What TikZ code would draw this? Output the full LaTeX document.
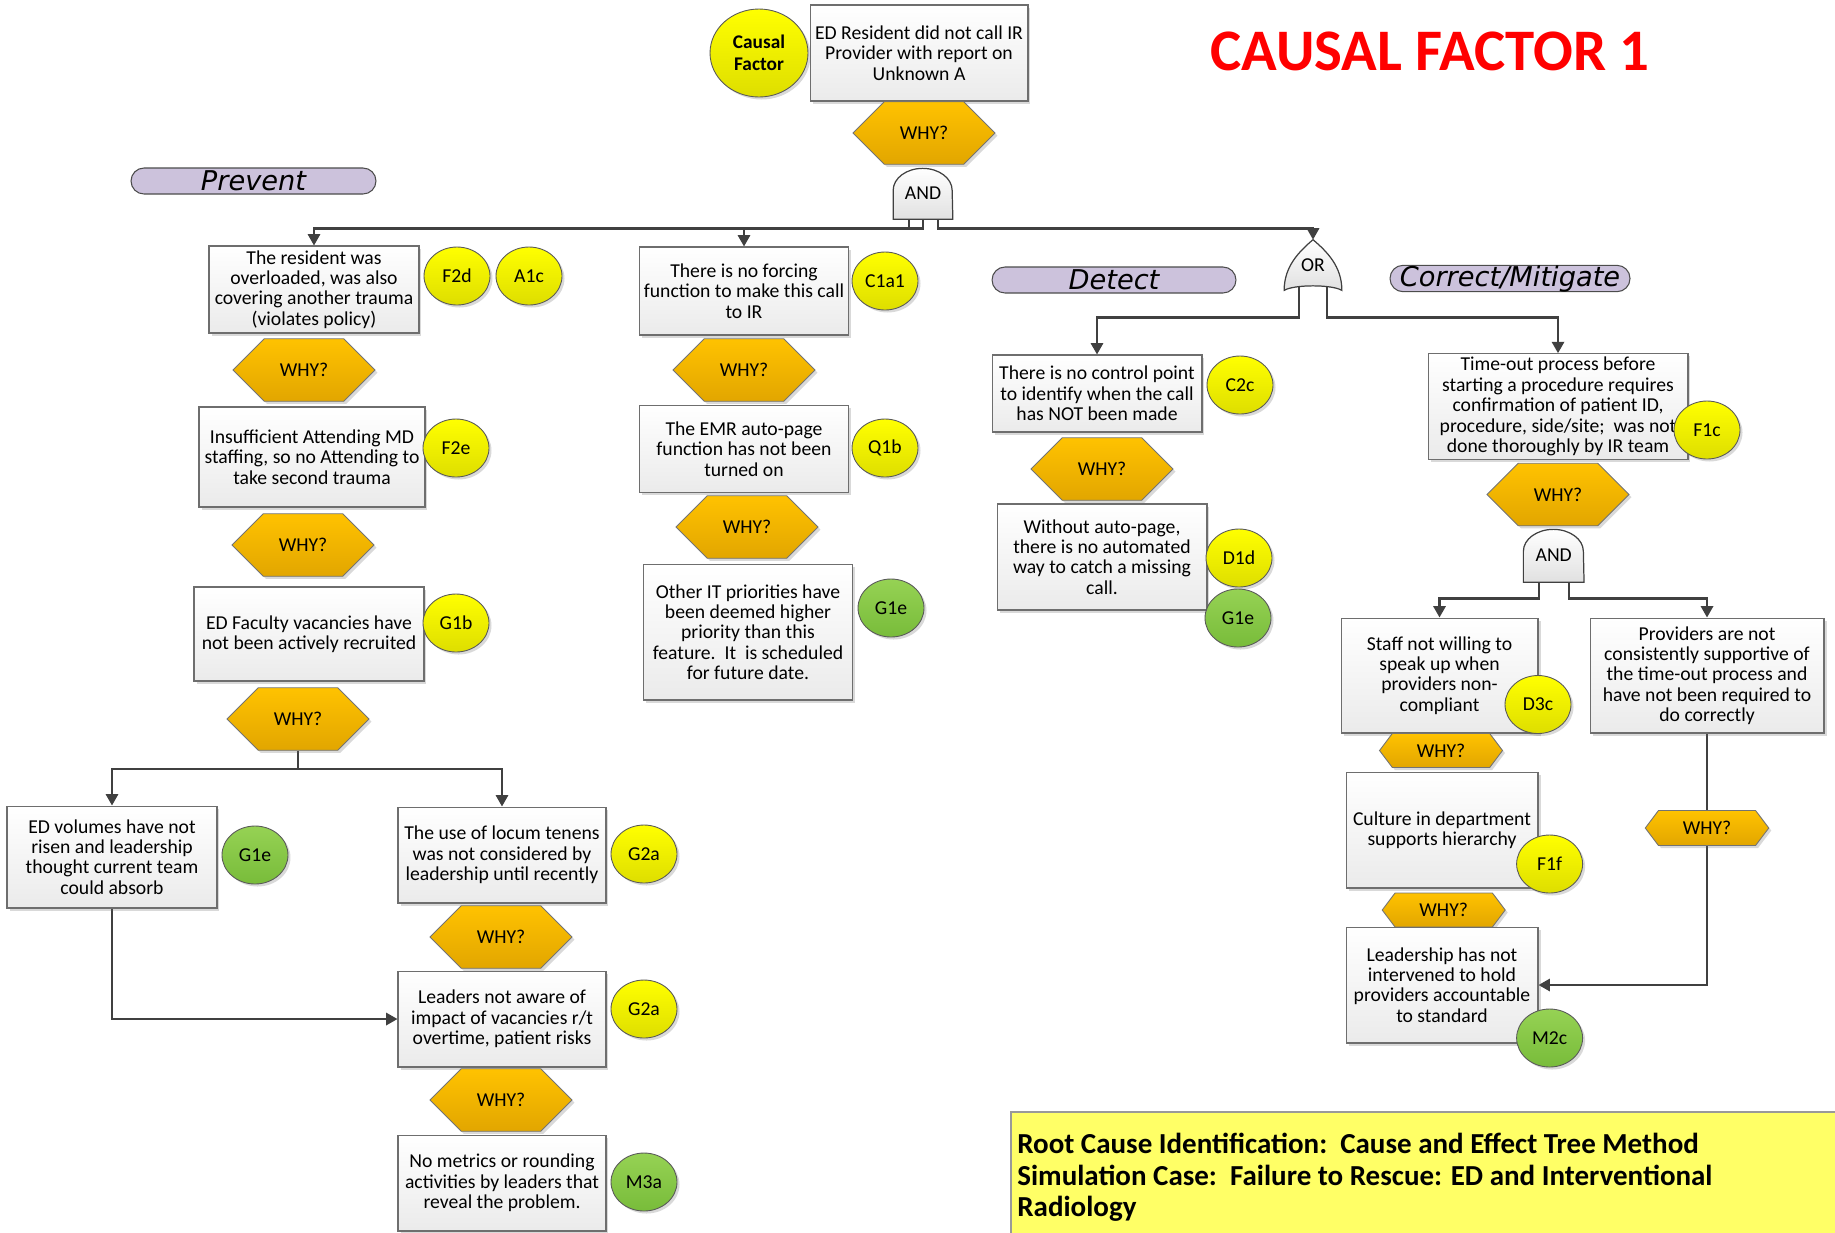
\documentclass[tikz,border=0pt]{standalone}
\usepackage{fontspec}
\setmainfont{Carlito}
\newfontfamily\phasefont{DejaVu Sans}
\usepackage{tikz}
\usetikzlibrary{shapes.geometric,shapes.symbols,shadows,calc,arrows.meta}
\definecolor{whytop}{RGB}{255,194,0}
\definecolor{whybot}{RGB}{226,166,0}
\definecolor{ylwtop}{RGB}{255,255,0}
\definecolor{ylwbot}{RGB}{222,222,0}
\definecolor{grntop}{RGB}{150,210,84}
\definecolor{grnbot}{RGB}{120,188,58}
\definecolor{pill}{RGB}{204,194,220}
\definecolor{conncol}{RGB}{64,64,64}
\definecolor{boxline}{RGB}{110,110,110}
\definecolor{notefill}{RGB}{255,255,102}
\pgfdeclarelayer{background}
\pgfdeclarelayer{gates}
\pgfsetlayers{background,gates,main}
\tikzset{softshadow/.style={drop shadow={shadow xshift=0.05cm,shadow yshift=-0.05cm,opacity=0.25,fill=black!60}},
causebox/.style={rectangle,draw=boxline,line width=0.6pt,top color=white,bottom color=black!8,align=center,inner sep=2pt,softshadow},
whyhex/.style={signal,signal to=east and west,signal pointer angle=90,draw=black!55,line width=0.5pt,top color=whytop,bottom color=whybot,minimum width=2.84cm,minimum height=1.25cm,inner sep=0pt,softshadow},
smallwhy/.style={whyhex,signal pointer angle=106,minimum width=2.46cm,minimum height=0.68cm},
ylwtag/.style={ellipse,draw=black!65,line width=0.5pt,top color=ylwtop,bottom color=ylwbot,minimum width=1.32cm,minimum height=1.16cm,inner sep=0pt,softshadow},
grntag/.style={ylwtag,top color=grntop,bottom color=grnbot},
phaselabel/.style={draw=black!70,line width=0.6pt,fill=pill,rounded corners=0.26cm,minimum height=0.52cm,inner sep=0pt,font=\phasefont\itshape\fontsize{15.5}{15.5}\selectfont},
gatebox/.style={minimum width=1.18cm,minimum height=1.02cm,inner sep=0pt},
gateshape/.style={draw=black!75,line width=0.7pt,top color=white,bottom color=black!12},
conn/.style={draw=conncol,line width=1.3pt,-{Triangle[width=7pt,length=6.5pt]}}}
\begin{document}
\begin{tikzpicture}[x=0.02cm,y=0.02cm,font=\fontsize{11.2}{11.6}\selectfont]
\useasboundingbox (0,0) rectangle (1835,-1232);
% causal factor and title
\node[ylwtag,minimum width=1.96cm,minimum height=1.76cm,align=center,font=\fontsize{11}{12.5}\selectfont\bfseries] (cf) at (759,-53) {Causal\\Factor};
\node[causebox,minimum width=4.36cm,minimum height=1.92cm] (top) at (919,-53) {ED Resident did not call IR\\Provider with report on\\Unknown A};
\node[whyhex] (why0) at (924,-133) {WHY?};
\node[gatebox] (and1) at (923,-193.5) {AND};
\node[text=red,font=\fontsize{33.5}{33.5}\selectfont\bfseries] (ttl) at (1430,-51) {CAUSAL FACTOR 1};
% phase labels
\node[phaselabel,minimum width=4.9cm] (prev) at (253.5,-181) {Prevent};
\node[phaselabel,minimum width=4.88cm] (det) at (1114,-280) {Detect};
\node[phaselabel,minimum width=4.8cm] (corr) at (1510,-278.5) {Correct/Mitigate};
% prevent branch
\node[causebox,minimum width=4.2cm,minimum height=1.74cm] (a1) at (314,-289.5) {The resident was\\overloaded, was also\\covering another trauma\\(violates policy)};
\node[ylwtag] (f2d) at (457,-276) {F2d};
\node[ylwtag] (a1c) at (529,-276) {A1c};
\node[whyhex] (whya1) at (304,-370) {WHY?};
\node[causebox,minimum width=4.52cm,minimum height=2cm] (a2) at (312,-457) {Insufficient Attending MD\\staffing, so no Attending to\\take second trauma};
\node[ylwtag] (f2e) at (456,-448) {F2e};
\node[whyhex] (whya2) at (303,-545) {WHY?};
\node[causebox,minimum width=4.6cm,minimum height=1.88cm] (a3) at (309,-634) {ED Faculty vacancies have\\not been actively recruited};
\node[ylwtag] (g1b) at (456,-623) {G1b};
\node[whyhex] (whya3) at (298,-719) {WHY?};
\node[causebox,minimum width=4.2cm,minimum height=2.04cm] (a4) at (112,-857) {ED volumes have not\\risen and leadership\\thought current team\\could absorb};
\node[grntag] (g1ea) at (255,-855) {G1e};
\node[causebox,minimum width=4.16cm,minimum height=1.92cm] (a5) at (502,-855) {The use of locum tenens\\was not considered by\\leadership until recently};
\node[ylwtag] (g2aa) at (644,-854) {G2a};
\node[whyhex] (whya5) at (501,-937) {WHY?};
\node[causebox,minimum width=4.16cm,minimum height=1.92cm] (a6) at (502,-1019) {Leaders not aware of\\impact of vacancies r/t\\overtime, patient risks};
\node[ylwtag] (g2ab) at (644,-1009) {G2a};
\node[whyhex] (whya6) at (501,-1100) {WHY?};
\node[causebox,minimum width=4.16cm,minimum height=1.92cm] (a7) at (502,-1183) {No metrics or rounding\\activities by leaders that\\reveal the problem.};
\node[grntag] (m3a) at (644,-1182) {M3a};
% middle branch
\node[causebox,minimum width=4.18cm,minimum height=1.76cm] (b1) at (744,-291) {There is no forcing\\function to make this call\\to IR};
\node[ylwtag] (c1a1) at (885,-281) {C1a1};
\node[whyhex] (whyb1) at (744,-370) {WHY?};
\node[causebox,minimum width=4.18cm,minimum height=1.74cm] (b2) at (744,-449) {The EMR auto-page\\function has not been\\turned on};
\node[ylwtag] (q1b) at (885,-448) {Q1b};
\node[whyhex] (whyb2) at (747,-527) {WHY?};
\node[causebox,minimum width=4.18cm,minimum height=2.72cm] (b3) at (748,-632) {Other IT priorities have\\been deemed higher\\priority than this\\feature.\ \ It\ \ is scheduled\\for future date.};
\node[grntag] (g1eb) at (891,-608) {G1e};
% detect branch
\node[gatebox,minimum width=1.14cm,minimum height=1cm] (or1) at (1313,-265) {OR};
\node[causebox,minimum width=4.2cm,minimum height=1.54cm] (c1) at (1097,-393.5) {There is no control point\\to identify when the call\\has NOT been made};
\node[ylwtag] (c2c) at (1240,-385) {C2c};
\node[whyhex] (whyc1) at (1102,-469) {WHY?};
\node[causebox,minimum width=4.2cm,minimum height=2.12cm] (c2) at (1102,-557) {Without auto-page,\\there is no automated\\way to catch a missing\\call.};
\node[ylwtag] (d1d) at (1239,-558) {D1d};
\node[grntag] (g1ec) at (1238,-618) {G1e};
% correct/mitigate branch
\node[causebox,minimum width=5.2cm,minimum height=2.06cm] (d1) at (1558,-406.5) {Time-out process before\\starting a procedure requires\\confirmation of patient ID,\\procedure, side/site;\ \ was not\\done thoroughly by IR team};
\node[ylwtag] (f1c) at (1707,-430) {F1c};
\node[whyhex] (whyd1) at (1558,-494.5) {WHY?};
\node[gatebox,minimum width=1.2cm,minimum height=1.06cm] (and2) at (1553.7,-555.5) {AND};
\node[causebox,minimum width=3.94cm,minimum height=2.3cm] (d2) at (1439.5,-675.5) {Staff not willing to\\speak up when\\providers non-\\compliant};
\node[ylwtag] (d3c) at (1538,-704.5) {D3c};
\node[causebox,minimum width=4.68cm,minimum height=2.3cm] (d3) at (1707,-675.5) {Providers are not\\consistently supportive of\\the time-out process and\\have not been required to\\do correctly};
\node[smallwhy] (whyd2) at (1441,-750.5) {WHY?};
\node[causebox,minimum width=3.84cm,minimum height=2.32cm] (d4) at (1442,-830) {Culture in department\\supports hierarchy};
\node[ylwtag] (f1f) at (1549.6,-864) {F1f};
\node[smallwhy] (whyd4) at (1443.7,-910) {WHY?};
\node[causebox,minimum width=3.84cm,minimum height=2.32cm] (d5) at (1442,-985) {Leadership has not\\intervened to hold\\providers accountable\\to standard};
\node[grntag] (m2c) at (1549.6,-1038) {M2c};
\node[smallwhy,minimum width=2.47cm,minimum height=0.7cm] (whyd3) at (1707,-828) {WHY?};
% gate outlines
\begin{pgfonlayer}{gates}
\draw[gateshape] (and1.south west) -- ++(0,29) arc[start angle=180,end angle=0,x radius=0.59cm,y radius=0.44cm] -- (and1.south east) -- cycle;
\draw[gateshape] (and2.south west) -- ++(0,31) arc[start angle=180,end angle=0,x radius=0.6cm,y radius=0.44cm] -- (and2.south east) -- cycle;
\draw[gateshape] (or1.south west) .. controls +(0,24) and +(-14,-12) .. (or1.north) .. controls +(14,-12) and +(0,24) .. (or1.south east) .. controls +(-10,6) and +(10,6) .. cycle;
\end{pgfonlayer}
% gate legs
\coordinate (and1a) at ($(and1.south)+(-14,0)$);
\coordinate (and1b) at ($(and1.south)+(0,0)$);
\coordinate (and1c) at ($(and1.south)+(15,0)$);
\coordinate (or1a) at ($(or1.south)+(-14,3)$);
\coordinate (or1b) at ($(or1.south)+(14,3)$);
\coordinate (and2a) at ($(and2.south)+(-15,0)$);
\coordinate (and2b) at ($(and2.south)+(15,0)$);
% connectors
\begin{pgfonlayer}{background}
\draw[conn] (and1a) -- ++(0,-9) -| (a1);
\draw[conn] (and1b) -- ++(0,-9) -| (b1);
\draw[conn] (and1c) -- ++(0,-9) -| (or1);
\draw[conn] (or1a) -- ++(0,-30) -| (c1);
\draw[conn] (or1b) -- ++(0,-30) -| (d1);
\draw[conn] (whya3.south) -- ++(0,-18) -| (a4);
\draw[conn] (whya3.south) -- ++(0,-18) -| (a5);
\draw[conn] (a4) |- (a6);
\draw[conn] (and2a) -- ++(0,-16) -| (d2);
\draw[conn] (and2b) -- ++(0,-16) -| (d3);
\draw[conn] (d3) |- (d5);
\end{pgfonlayer}
% summary note
\path[draw=black!40,line width=1pt,fill=notefill] (1011,-1112) rectangle (1850,-1250);
\node[anchor=north west,align=left,inner sep=0pt,font=\bfseries\fontsize{16.5}{17.8}\selectfont] (note) at (1017,-1133) {Root Cause Identification:\ \ Cause and Effect Tree Method\\Simulation Case:\ \ Failure to Rescue: ED and Interventional\\Radiology};
\end{tikzpicture}
\end{document}
